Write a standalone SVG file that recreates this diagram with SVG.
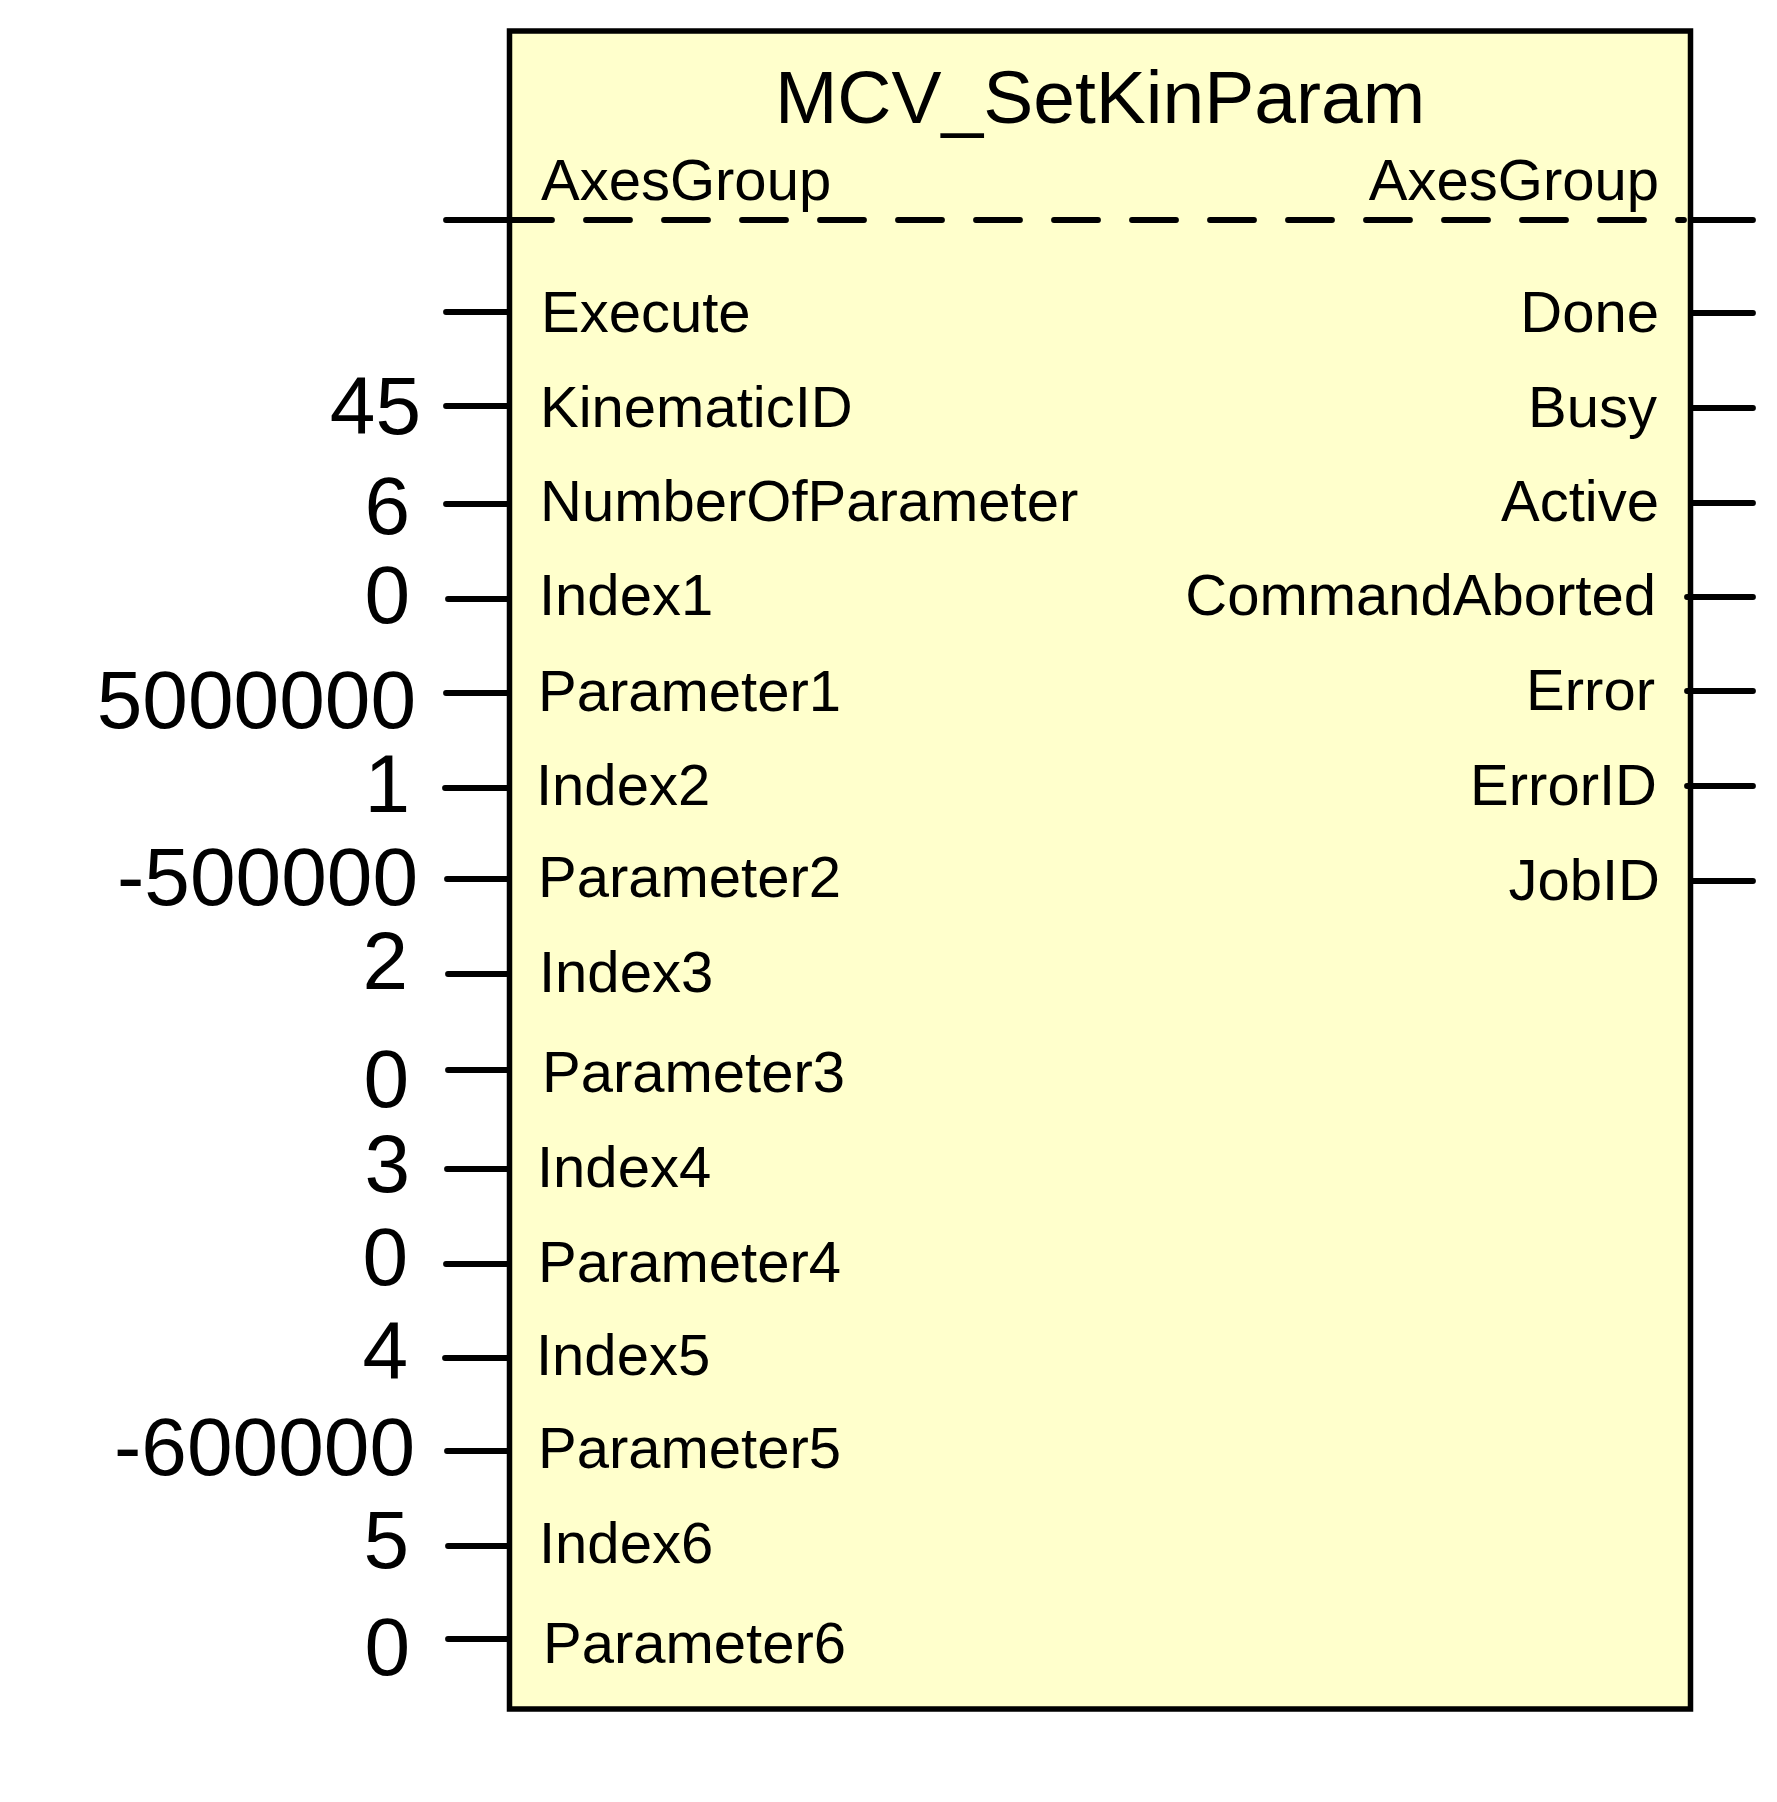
<svg xmlns="http://www.w3.org/2000/svg" width="1777" height="1802" viewBox="0 0 1777 1802">
<style>
.box{fill:#FFFFCC;stroke:#000;stroke-width:5.5}
.w{stroke:#000;stroke-width:5.8;stroke-linecap:round;fill:none}
.d{stroke:#000;stroke-width:5.8;stroke-linecap:round;stroke-dasharray:44 34;fill:none}
text{font-family:"Liberation Sans",Arial,sans-serif;fill:#000}
.t{font-size:75px;text-anchor:middle}
.l{font-size:58px}
.r{font-size:58px;text-anchor:end}
.v{font-size:82px;text-anchor:end}
</style>
<rect width="1777" height="1802" fill="#fff"/>
<g id="block">
<rect class="box" x="509.5" y="31" width="1181" height="1678"/>
<text class="t" x="1100" y="123">MCV_SetKinParam</text>
</g>
<g id="connectors">
<line class="w" x1="446" y1="220" x2="508" y2="220"/>
<line class="d" x1="508" y1="220" x2="1684" y2="220"/>
<line class="w" x1="1691" y1="220" x2="1753" y2="220"/>
<line class="w" x1="446" y1="312" x2="508" y2="312"/>
<line class="w" x1="446" y1="406" x2="508" y2="406"/>
<line class="w" x1="446" y1="504" x2="508" y2="504"/>
<line class="w" x1="448" y1="599" x2="508" y2="599"/>
<line class="w" x1="446" y1="693" x2="508" y2="693"/>
<line class="w" x1="445" y1="788" x2="508" y2="788"/>
<line class="w" x1="447" y1="879" x2="508" y2="879"/>
<line class="w" x1="448" y1="974" x2="508" y2="974"/>
<line class="w" x1="448" y1="1070" x2="508" y2="1070"/>
<line class="w" x1="447" y1="1169" x2="508" y2="1169"/>
<line class="w" x1="446" y1="1264" x2="508" y2="1264"/>
<line class="w" x1="445" y1="1358" x2="508" y2="1358"/>
<line class="w" x1="447" y1="1451" x2="508" y2="1451"/>
<line class="w" x1="448" y1="1546" x2="508" y2="1546"/>
<line class="w" x1="448" y1="1639" x2="508" y2="1639"/>
<line class="w" x1="1691" y1="313" x2="1753" y2="313"/>
<line class="w" x1="1691" y1="408" x2="1753" y2="408"/>
<line class="w" x1="1691" y1="503" x2="1753" y2="503"/>
<line class="w" x1="1687" y1="597" x2="1753" y2="597"/>
<line class="w" x1="1687" y1="691" x2="1753" y2="691"/>
<line class="w" x1="1687" y1="786" x2="1753" y2="786"/>
<line class="w" x1="1691" y1="881" x2="1753" y2="881"/>
</g>
<g id="pin-labels-in">
<text class="l" x="541" y="200">AxesGroup</text>
<text class="l" x="541" y="332">Execute</text>
<text class="l" x="540" y="427">KinematicID</text>
<text class="l" x="540" y="521">NumberOfParameter</text>
<text class="l" x="539" y="615">Index1</text>
<text class="l" x="538" y="711">Parameter1</text>
<text class="l" x="536" y="805">Index2</text>
<text class="l" x="538" y="897">Parameter2</text>
<text class="l" x="539" y="992">Index3</text>
<text class="l" x="542" y="1092">Parameter3</text>
<text class="l" x="537" y="1187">Index4</text>
<text class="l" x="538" y="1282">Parameter4</text>
<text class="l" x="536" y="1375">Index5</text>
<text class="l" x="538" y="1468">Parameter5</text>
<text class="l" x="539" y="1563">Index6</text>
<text class="l" x="543" y="1663">Parameter6</text>
</g>
<g id="pin-labels-out">
<text class="r" x="1659" y="200">AxesGroup</text>
<text class="r" x="1659" y="332">Done</text>
<text class="r" x="1657" y="427">Busy</text>
<text class="r" x="1659" y="521">Active</text>
<text class="r" x="1656" y="615">CommandAborted</text>
<text class="r" x="1655" y="710">Error</text>
<text class="r" x="1657" y="805">ErrorID</text>
<text class="r" x="1660" y="900">JobID</text>
</g>
<g id="values">
<text class="v" x="421" y="434">45</text>
<text class="v" x="410" y="534">6</text>
<text class="v" x="410" y="623">0</text>
<text class="v" x="416" y="728">5000000</text>
<text class="v" x="410" y="812">1</text>
<text class="v" x="418" y="905">-500000</text>
<text class="v" x="408" y="989">2</text>
<text class="v" x="409" y="1107">0</text>
<text class="v" x="410" y="1192">3</text>
<text class="v" x="408" y="1285">0</text>
<text class="v" x="408" y="1379">4</text>
<text class="v" x="415" y="1475">-600000</text>
<text class="v" x="409" y="1568">5</text>
<text class="v" x="410" y="1675">0</text>
</g>
</svg>
